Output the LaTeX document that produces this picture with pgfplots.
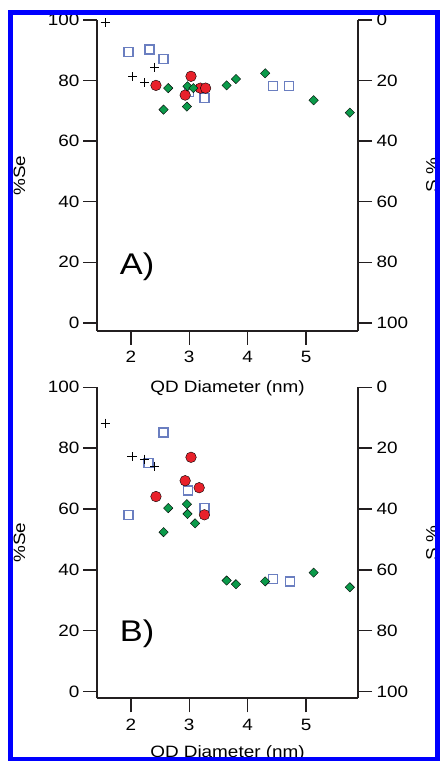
\documentclass[border=0pt]{standalone}
\usepackage{fontspec}
\setmainfont{Liberation Sans}[FakeStretch=1.15]
\usepackage{pgfplots}
\pgfplotsset{compat=1.18}
\definecolor{sqblue}{HTML}{6A7EC0}
\definecolor{dotred}{HTML}{E8212B}
\definecolor{dgreen}{HTML}{0B9A4A}
\definecolor{axcol}{HTML}{231F20}
\definecolor{frameblue}{HTML}{0000FF}
\pgfplotsset{
  base/.style={scale only axis, width=261bp, height=311bp, xmin=1.42, xmax=5.89,
    axis line style={axcol, line width=1.6bp},
    major tick style={axcol, line width=1.4bp},
    major tick length=14bp, tick align=outside,
    tick label style={font=\fontsize{16.5}{19}\selectfont, text=black},
    /pgf/number format/assume math mode=true,
    label style={font=\fontsize{16.5}{19}\selectfont, inner sep=0pt},
    clip=false},
  lft/.style={base, axis x line*=bottom, axis y line*=left, xtick={2,3,4,5},
    ytick={0,20,...,100}, ymax=100,
    xticklabel style={yshift=-3bp},
    xlabel={QD Diameter (nm)}, ylabel={\%Se},
    ylabel style={at={(axis description cs:-0.32,0.5)}, anchor=north}},
  rgt/.style={base, axis x line=none, axis y line*=right, y dir=reverse, ymin=0,
    ytick={0,20,...,100}, ylabel={S \%},
    yticklabel style={xshift=1bp},
    ylabel style={at={(axis description cs:1.2605,0.5)}, anchor=north}},
  sq/.style={only marks, mark=square, mark size=4.5bp, mark options={draw=sqblue, line width=1.3bp}},
  pl/.style={only marks, mark=+, mark size=4.6bp, mark options={draw=black, line width=0.9bp}},
  rd/.style={only marks, mark=*, mark size=5.3bp, mark options={draw=none, fill=dotred}},
  gr/.style={only marks, mark=square*, mark size=3.3bp, mark options={draw=none, fill=dgreen, rotate=45}},
}
\begin{document}
\begin{tikzpicture}
\path[use as bounding box] (0bp,0bp) rectangle (440bp,761bp);
% Panel A
\begin{axis}[lft, at={(97bp,430bp)}, anchor=south west, ymin=-2.7,
  xlabel style={at={(axis description cs:0.5,-0.1575)}, anchor=north}]
\addplot[sq] coordinates {(1.96,89.4) (2.32,90.3) (2.56,87.2) (3.00,76.3) (3.26,74.3) (4.43,78.3) (4.71,78.3)};
\addplot[pl] coordinates {(1.56,99.1) (2.03,81.3) (2.24,79.3) (2.41,84.4)};
\addplot[rd] coordinates {(2.43,78.4) (3.03,81.4) (2.93,75.2) (3.19,77.5) (3.28,77.5)};
\addplot[gr] coordinates {(2.64,77.5) (2.56,70.4) (2.96,71.4) (2.97,78.1) (3.07,77.5) (3.64,78.4) (3.80,80.5) (4.30,82.4) (5.13,73.5) (5.75,69.4)};
\node[anchor=base west, inner sep=0pt, font=\fontsize{30}{34}\selectfont] at (axis cs:1.81,15.8) {A)};
\end{axis}
\begin{axis}[rgt, at={(97bp,430bp)}, anchor=south west, ymax=102.7]
\end{axis}
% Panel B
\begin{axis}[lft, at={(97bp,62.7bp)}, anchor=south west, ymin=-2.2,
  xlabel style={at={(axis description cs:0.5,-0.153)}, anchor=north}]
\addplot[sq] coordinates {(2.56,85.1) (1.96,58.1) (2.30,75.1) (2.98,66.1) (3.26,60.4) (4.43,37.0) (4.72,36.2)};
\addplot[pl] coordinates {(1.56,88.2) (2.02,77.2) (2.24,76.4) (2.41,74.0)};
\addplot[rd] coordinates {(3.03,77.0) (2.93,69.3) (3.17,67.0) (2.43,64.1) (3.26,58.1)};
\addplot[gr] coordinates {(2.64,60.3) (2.56,52.4) (2.96,61.6) (2.97,58.4) (3.10,55.3) (3.64,36.5) (3.80,35.3) (4.30,36.2) (5.13,39.1) (5.75,34.3)};
\node[anchor=base west, inner sep=0pt, font=\fontsize{30}{34}\selectfont] at (axis cs:1.81,16.5) {B)};
\end{axis}
\begin{axis}[rgt, at={(97bp,62.7bp)}, anchor=south west, ymax=102.2]
\end{axis}
% frame
\fill[white] (437.2bp,0bp) rectangle (445bp,761bp);
\draw[frameblue, line width=5bp] (10.8bp,1.3bp) rectangle (437.2bp,748.5bp);
\end{tikzpicture}
\end{document}
